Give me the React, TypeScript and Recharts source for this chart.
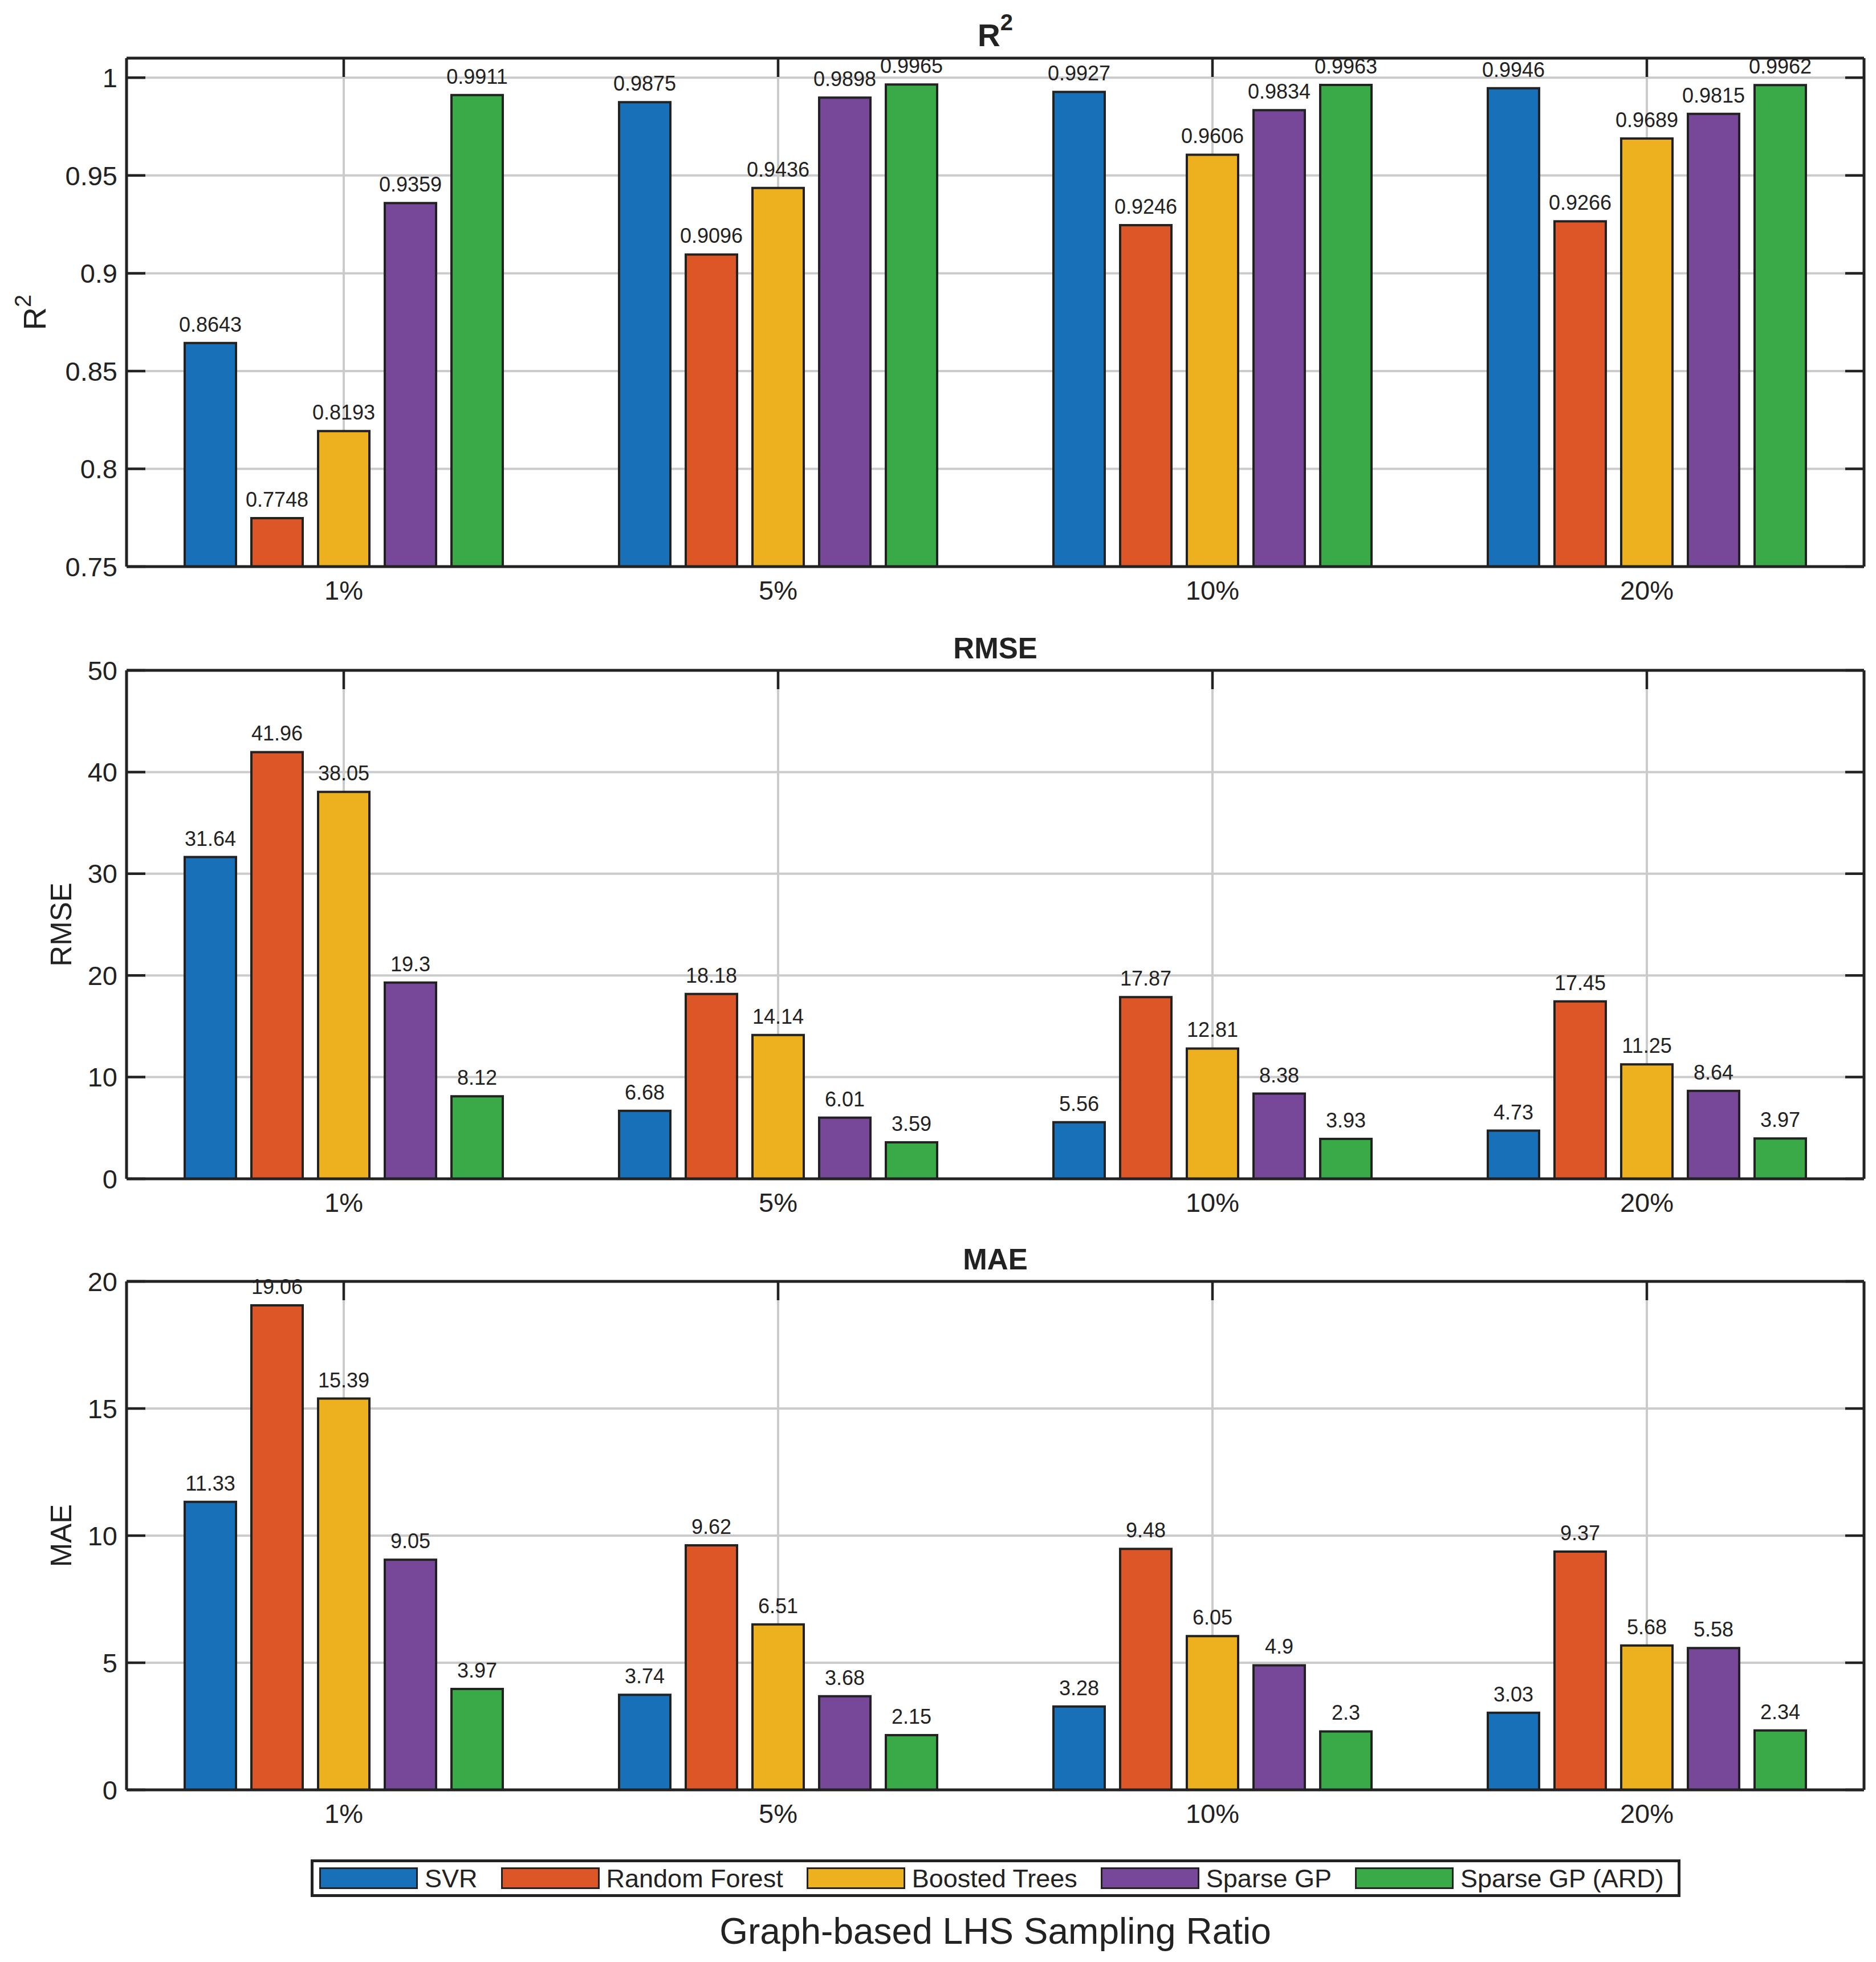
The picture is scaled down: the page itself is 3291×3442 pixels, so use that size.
import React from "react";
import {
  BarChart,
  Bar,
  XAxis,
  YAxis,
  CartesianGrid,
  LabelList,
  Label,
  Legend,
} from "recharts";

/* ---------- data ---------- */
const categories = ["1%", "5%", "10%", "20%"];

const seriesNames = ["SVR", "Random Forest", "Boosted Trees", "Sparse GP", "Sparse GP (ARD)"];
const seriesKeys = ["svr", "rf", "bt", "sgp", "ard"];
const seriesColors = ["#1770B8", "#DD5628", "#EDB120", "#77479A", "#3AAA48"];

// R^2
const r2Svr = [0.8643, 0.9875, 0.9927, 0.9946];
const r2Rf = [0.7748, 0.9096, 0.9246, 0.9266];
const r2Bt = [0.8193, 0.9436, 0.9606, 0.9689];
const r2Sgp = [0.9359, 0.9898, 0.9834, 0.9815];
const r2Ard = [0.9911, 0.9965, 0.9963, 0.9962];

// RMSE
const rmseSvr = [31.64, 6.68, 5.56, 4.73];
const rmseRf = [41.96, 18.18, 17.87, 17.45];
const rmseBt = [38.05, 14.14, 12.81, 11.25];
const rmseSgp = [19.3, 6.01, 8.38, 8.64];
const rmseArd = [8.12, 3.59, 3.93, 3.97];

// MAE
const maeSvr = [11.33, 3.74, 3.28, 3.03];
const maeRf = [19.06, 9.62, 9.48, 9.37];
const maeBt = [15.39, 6.51, 6.05, 5.68];
const maeSgp = [9.05, 3.68, 4.9, 5.58];
const maeArd = [3.97, 2.15, 2.3, 2.34];

const r2Ticks = [0.75, 0.8, 0.85, 0.9, 0.95, 1];
const rmseTicks = [0, 10, 20, 30, 40, 50];
const maeTicks = [0, 5, 10, 15, 20];

function buildRows(cols: number[][]) {
  return categories.map((cat, i) => {
    const row: any = { cat };
    seriesKeys.forEach((k, j) => (row[k] = cols[j][i]));
    return row;
  });
}

const r2Rows = buildRows([r2Svr, r2Rf, r2Bt, r2Sgp, r2Ard]);
const rmseRows = buildRows([rmseSvr, rmseRf, rmseBt, rmseSgp, rmseArd]);
const maeRows = buildRows([maeSvr, maeRf, maeBt, maeSgp, maeArd]);

/* ---------- styles ---------- */
const FONT = "'Liberation Sans', Arial, Helvetica, sans-serif";
const INK = "#222222";
const W = 3291;
const PLOT_LEFT = 222;
const RIGHT_MARGIN = 20;
const PLOT_H = 892;
const TICK_LEN = 33;
const TICK_W = 4.5;

/* ---------- helpers ---------- */
// vertical grid lines through the centre of each category band
const gridX = (props: any) => {
  const { xAxis, offset } = props;
  const sc = xAxis && xAxis.scale;
  if (typeof sc === "function" && typeof sc.bandwidth === "function") {
    const bw = sc.bandwidth();
    return categories.map((c) => sc(c) + bw / 2);
  }
  const band = offset.width / categories.length;
  return categories.map((_, i) => offset.left + band * (i + 0.5));
};

// MATLAB style: ticks point into the plot box
const LeftTick = (props: any) => {
  const { x, y, payload } = props;
  return (
    <g>
      <line x1={PLOT_LEFT} x2={PLOT_LEFT + TICK_LEN} y1={y} y2={y} stroke={INK} strokeWidth={TICK_W} />
      <text x={x} y={y} dy="0.355em" textAnchor="end" fill={INK} fontSize={47} fontFamily={FONT}>
        {payload.value}
      </text>
    </g>
  );
};

const TopTick = (props: any) => {
  const { x, y } = props;
  return <line x1={x} x2={x} y1={y} y2={y + TICK_LEN} stroke={INK} strokeWidth={TICK_W} />;
};

const RightTick = (props: any) => {
  const { x, y } = props;
  return <line x1={x - TICK_LEN} x2={x} y1={y} y2={y} stroke={INK} strokeWidth={TICK_W} />;
};

function titleContent(kind: "r2" | "text", text?: string) {
  return (props: any) => {
    const vb = props.viewBox || {};
    const cx = vb.x + vb.width / 2;
    const y = vb.y + vb.height - 21;
    if (kind === "r2") {
      return (
        <text x={cx} y={y} textAnchor="middle" fill={INK} fontFamily={FONT} fontWeight="bold" fontSize={55}>
          R
          <tspan fontSize={40} dy={-28}>2</tspan>
        </text>
      );
    }
    return (
      <text x={cx} y={y} textAnchor="middle" fill={INK} fontFamily={FONT} fontWeight="bold" fontSize={51}>
        {text}
      </text>
    );
  };
}

function yLabelContent(kind: "r2" | "text", text?: string) {
  return (props: any) => {
    const vb = props.viewBox || {};
    const cy = vb.y + vb.height / 2;
    const bx = kind === "r2" ? 80 : 125;
    return (
      <text
        x={bx}
        y={cy}
        transform={`rotate(-90 ${bx} ${cy})`}
        textAnchor="middle"
        fill={INK}
        fontFamily={FONT}
        fontSize={kind === "r2" ? 56 : 51}
      >
        {kind === "r2" ? (
          <>
            R<tspan fontSize={40} dy={-26}>2</tspan>
          </>
        ) : (
          text
        )}
      </text>
    );
  };
}

const xLabelContent = (props: any) => {
  const vb = props.viewBox || {};
  return (
    <text x={vb.x + vb.width / 2} y={vb.y + 270} textAnchor="middle" fill={INK} fontFamily={FONT} fontSize={64}>
      Graph-based LHS Sampling Ratio
    </text>
  );
};

const LegendBox = () => (
  <div
    style={{
      width: 2403,
      height: 66,
      boxSizing: "border-box",
      border: `5px solid ${INK}`,
      background: "#fff",
      display: "flex",
      alignItems: "center",
      paddingLeft: 10,
      fontFamily: FONT,
      fontSize: 45,
      color: INK,
      whiteSpace: "nowrap",
    }}
  >
    {seriesNames.map((name, i) => (
      <div key={name} style={{ display: "flex", alignItems: "center", marginRight: i < seriesNames.length - 1 ? 41 : 0 }}>
        <svg width={173} height={38} style={{ display: "block" }}>
          <rect x={1.5} y={1.5} width={170} height={35} fill={seriesColors[i]} stroke={INK} strokeWidth={3} />
        </svg>
        <span style={{ marginLeft: 12, lineHeight: 1 }}>{name}</span>
      </div>
    ))}
  </div>
);

/* ---------- panel ---------- */
interface PanelProps {
  rows: any[];
  domain: [number, number];
  ticks: number[];
  top: number;
  height: number;
  marginTop: number;
  xAxisHeight: number;
  title: any;
  yLabel: any;
  last?: boolean;
}

function Panel({ rows, domain, ticks, top, height, marginTop, xAxisHeight, title, yLabel, last }: PanelProps) {
  return (
    <div style={{ position: "absolute", left: 0, top, width: W, height }}>
      <BarChart
        width={W}
        height={height}
        data={rows}
        margin={{ top: marginTop, right: RIGHT_MARGIN, left: 0, bottom: 0 }}
        barSize={90}
        barGap={27}
      >
        <CartesianGrid
          stroke="#cbcbcb"
          strokeWidth={4}
          verticalCoordinatesGenerator={gridX}
        />
        <XAxis
          dataKey="cat"
          height={xAxisHeight}
          axisLine={{ stroke: INK, strokeWidth: 5 }}
          tickLine={false}
          tickSize={0}
          tickMargin={25}
          tick={{ fill: INK, fontSize: 47, fontFamily: FONT }}
          interval={0}
        >
          {last && <Label content={xLabelContent} />}
        </XAxis>
        <XAxis
          xAxisId="top"
          dataKey="cat"
          orientation="top"
          height={1}
          axisLine={{ stroke: INK, strokeWidth: 5 }}
          tickLine={false}
          tickSize={0}
          tickMargin={0}
          tick={<TopTick />}
          interval={0}
        >
          <Label content={title} />
        </XAxis>
        <YAxis
          width={PLOT_LEFT}
          type="number"
          domain={domain}
          ticks={ticks}
          allowDataOverflow
          interval={0}
          axisLine={{ stroke: INK, strokeWidth: 5 }}
          tickLine={false}
          tickSize={0}
          tickMargin={16}
          tick={<LeftTick />}
        >
          <Label content={yLabel} />
        </YAxis>
        <YAxis
          yAxisId="right"
          orientation="right"
          width={1}
          type="number"
          domain={domain}
          ticks={ticks}
          allowDataOverflow
          interval={0}
          axisLine={{ stroke: INK, strokeWidth: 5 }}
          tickLine={false}
          tickSize={0}
          tickMargin={0}
          tick={<RightTick />}
        />
        {seriesKeys.map((k, i) => (
          <Bar
            key={k}
            dataKey={k}
            name={seriesNames[i]}
            fill={seriesColors[i]}
            stroke={INK}
            strokeWidth={4}
            isAnimationActive={false}
          >
            <LabelList dataKey={k} position="top" offset={20} fill={INK} fontSize={36} fontFamily={FONT} />
          </Bar>
        ))}
        {last && (
          <Legend
            layout="horizontal"
            verticalAlign="middle"
            align="center"
            content={LegendBox}
            wrapperStyle={{ top: 1112, left: 545, width: 2403, height: 66 }}
          />
        )}
      </BarChart>
    </div>
  );
}

export default function App() {
  return (
    <div style={{ position: "absolute", left: 0, top: 0, width: W, height: 3442, background: "#fff" }}>
      <Panel
        rows={r2Rows}
        domain={[0.75, 1.01]}
        ticks={r2Ticks}
        top={0}
        height={1100}
        marginTop={101}
        xAxisHeight={1100 - 102 - PLOT_H}
        title={titleContent("r2")}
        yLabel={yLabelContent("r2")}
      />
      <Panel
        rows={rmseRows}
        domain={[0, 50]}
        ticks={rmseTicks}
        top={1100}
        height={1050}
        marginTop={75}
        xAxisHeight={1050 - 76 - PLOT_H}
        title={titleContent("text", "RMSE")}
        yLabel={yLabelContent("text", "RMSE")}
      />
      <Panel
        rows={maeRows}
        domain={[0, 20]}
        ticks={maeTicks}
        top={2150}
        height={1292}
        marginTop={97}
        xAxisHeight={1292 - 98 - PLOT_H}
        title={titleContent("text", "MAE")}
        yLabel={yLabelContent("text", "MAE")}
        last
      />
    </div>
  );
}
